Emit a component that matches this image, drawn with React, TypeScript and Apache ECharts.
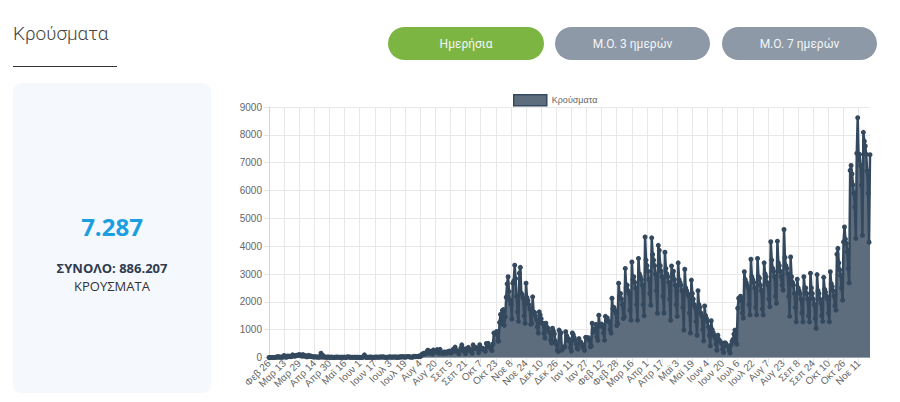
import React, { useEffect, useRef } from "react";
import * as echarts from "echarts";

// Daily cases, one row per week (Wed .. Tue), starting Wed 26 Feb 2020
const START_UTC = Date.UTC(2020, 1, 26);
const MONTHS = ["Ιαν", "Φεβ", "Μαρ", "Απρ", "Μαϊ", "Ιουν", "Ιουλ", "Αυγ", "Σεπ", "Οκτ", "Νοε", "Δεκ"];

const casesSpring2020 = [
  1, 2, 0, 0, 0, 1, 3,
  2, 22, 14, 32, 7, 11, 20,
  10, 18, 73, 38, 10, 21, 56,
  31, 46, 31, 35, 94, 71, 48,
  52, 78, 71, 95, 95, 102, 56,
  48, 103, 54, 60, 62, 20, 35,
  77, 38, 56, 40, 24, 28, 18,
  25, 21, 15, 13, 12, 19, 156,
  11, 77, 11, 16, 15, 7, 14,
  17, 3, 10, 16, 8, 1, 5,
  11, 9, 13, 12, 11, 0, 9,
  10, 7, 6, 15, 3, 4, 25,
  15, 21, 6, 2, 11, 3, 11,
  12, 2, 8, 9, 2, 5, 1,
  4, 5, 20, 97, 13, 4, 9,
  11, 7, 17, 8, 11, 3, 10,
  8, 16, 16, 11, 7, 15, 21,
  15, 17, 23, 12, 6, 5, 6,
  12, 14, 25, 15, 9, 16, 20,
  11, 22, 5, 8, 19, 7, 28,
  22, 25, 26, 18, 19, 19, 29,
  34, 27, 25, 12, 15, 13, 28,
];

const casesAutumn2020 = [
  44, 30, 33, 32, 31, 58, 37,
  58, 124, 121, 153, 126, 151, 203,
  262, 156, 230, 217, 202, 126, 269,
  235, 195, 227, 284, 176, 155, 293,
  168, 168, 142, 190, 198, 156, 161,
  214, 187, 236, 166, 160, 206, 295,
  210, 372, 262, 232, 208, 129, 237,
  338, 453, 339, 241, 219, 138, 318,
  290, 365, 245, 289, 225, 149, 456,
  347, 323, 359, 311, 291, 171, 460,
  340, 320, 332, 271, 262, 223, 504,
  374, 507, 385, 380, 303, 250, 486,
  882, 865, 841, 935, 590, 586, 1259,
  1547, 1211, 1690, 1720, 1155, 1460, 2166,
  2646, 2900, 2369, 2056, 1914, 1384, 2670,
  2752, 3316, 2835, 2198, 1640, 1300, 3030,
  3240, 2311, 2248, 2131, 1498, 1230, 2670,
  2150, 2050, 1900, 1747, 1193, 1230, 2180,
  1640, 1617, 1500, 1358, 1100, 880, 1639,
  1529, 1395, 1229, 1226, 860, 700, 1230,
  1100, 1050, 940, 900, 622, 520, 1050,
  947, 850, 599, 480, 262, 210, 985,
  905, 882, 262, 330, 376, 380, 925,
];

const casesSpring2021 = [
  781, 621, 673, 591, 347, 232, 880,
  818, 711, 604, 495, 331, 300, 680,
  543, 555, 482, 406, 337, 258, 725,
  710, 698, 712, 619, 383, 413, 1230,
  906, 1010, 1000, 1193, 748, 616, 1520,
  1152, 1130, 1200, 1120, 880, 624, 1480,
  1390, 1420, 1300, 1290, 1000, 880, 2130,
  1750, 1800, 1700, 1600, 1150, 1220, 2670,
  2200, 2300, 2100, 1900, 1400, 1460, 3200,
  2500, 2600, 2400, 2300, 1700, 1340, 3430,
  2800, 2900, 2700, 2500, 1900, 1340, 3560,
  3000, 2900, 2800, 2600, 1900, 1500, 4330,
  3500, 3300, 3100, 2800, 2300, 1880, 4300,
  3700, 3500, 3300, 3000, 2400, 1590, 4030,
  3850, 3300, 3100, 2900, 2200, 1600, 3780,
  3200, 3000, 2900, 2700, 2100, 1340, 3290,
  3000, 3100, 2800, 2600, 1900, 1480, 3400,
  2800, 2700, 2600, 2400, 1800, 985, 3170,
  2500, 2400, 2300, 2200, 1600, 880, 2780,
  2300, 2100, 1900, 1800, 1300, 800, 2400,
  1900, 1800, 1600, 1500, 1000, 600, 1850,
  1500, 1400, 1300, 1100, 800, 420, 1320,
  1000, 900, 800, 700, 500, 260, 800,
  650, 600, 550, 500, 300, 180, 520,
  520, 480, 400, 380, 250, 160, 450,
];

const casesAutumn2021 = [
  580, 650, 840, 985, 560, 480, 1770,
  2130, 2050, 2200, 2130, 1600, 1420, 3080,
  2800, 2700, 2600, 2500, 1900, 1530, 3530,
  2900, 2800, 2700, 2500, 1800, 1530, 3560,
  2900, 2850, 2600, 2400, 1750, 1530, 3400,
  3000, 2900, 2700, 2600, 2100, 1820, 4160,
  3500, 3200, 3100, 2900, 2200, 1950, 4180,
  3400, 3300, 3100, 2900, 2600, 2420, 4600,
  3600, 3300, 3200, 3000, 2200, 1480, 3610,
  2900, 2700, 2600, 2300, 1800, 1280, 2810,
  2500, 2400, 2300, 2100, 1600, 1280, 2900,
  2500, 2500, 2300, 2100, 1500, 1280, 3030,
  2500, 2300, 2100, 1900, 1400, 1045, 2980,
  2400, 2300, 2100, 1950, 1500, 1300, 2880,
  2450, 2350, 2200, 2100, 1600, 1280, 3080,
  2650, 2550, 2400, 2200, 1850, 1700, 3710,
  3920, 3400, 3150, 2950, 2500, 2060, 4150,
  4690, 4250, 4100, 3800, 3200, 2680, 6720,
  6900, 6600, 6200, 5900, 5400, 4280, 7335,
  8613, 7080, 7300, 6900, 6200, 4390, 8090,
  7770, 7600, 7300, 6700, 5900, 4140, 7287,
];

const dailyCases = [...casesSpring2020, ...casesAutumn2020, ...casesSpring2021, ...casesAutumn2021];
const dateLabels = dailyCases.map((_, i) => {
  const d = new Date(START_UTC + i * 86400000);
  return `${MONTHS[d.getUTCMonth()]} ${d.getUTCDate()}`;
});

const SERIES_NAME = "Κρούσματα";
const TITLE = "Κρούσματα";
const BUTTONS = ["Ημερήσια", "Μ.Ο. 3 ημερών", "Μ.Ο. 7 ημερών"];
const LAST_VALUE = "7.287";
const TOTAL_TEXT = "ΣΥΝΟΛΟ: 886.207";
const UNIT_TEXT = "ΚΡΟΥΣΜΑΤΑ";
const Y_MAX = 9000;
const Y_STEP = 1000;
const LABEL_EVERY = 16;

const CHART_FONT = "'Liberation Sans', Arial, sans-serif";
const UI_FONT = "Roboto, 'Open Sans', sans-serif";
const PANEL_FONT = "'Open Sans', 'Noto Sans', sans-serif";

function txt(x: number, y: number, text: string, size: number, fill: string, weight: string | number, family: string) {
  return {
    type: "text",
    x,
    y,
    silent: true,
    style: {
      text,
      fontSize: size,
      fontWeight: weight,
      fontFamily: family,
      fill,
      align: "center",
      verticalAlign: "middle",
      textAlign: "center",
      textVerticalAlign: "middle",
    },
  };
}

const buttonBoxes = [
  { x: 388, w: 156, color: "#7db543" },
  { x: 555, w: 155, color: "#8d99a6" },
  { x: 722, w: 155, color: "#8d99a6" },
];

export default function App() {
  const ref = useRef<HTMLDivElement>(null);
  useEffect(() => {
    if (!ref.current) return;
    const chart = echarts.init(ref.current, undefined, { renderer: "svg" });
    const graphics: any[] = [
      {
        type: "text",
        x: 13,
        y: 33,
        silent: true,
        style: {
          text: TITLE,
          fontSize: 19,
          fontWeight: 300,
          fontFamily: UI_FONT,
          fill: "#444",
          align: "left",
          verticalAlign: "middle",
          textAlign: "left",
          textVerticalAlign: "middle",
        },
      },
      { type: "line", shape: { x1: 13, y1: 66.5, x2: 117, y2: 66.5 }, style: { stroke: "#333", lineWidth: 1 }, silent: true },
      { type: "rect", shape: { x: 13, y: 83, width: 198, height: 310, r: 8 }, style: { fill: "#f5f8fc" }, silent: true },
      txt(112, 226.5, LAST_VALUE, 24, "#1a9fe0", "bold", PANEL_FONT),
      txt(112, 267.5, TOTAL_TEXT, 13, "#2f3b4f", "bold", PANEL_FONT),
      txt(112, 286, UNIT_TEXT, 13, "#333", "normal", PANEL_FONT),
    ];
    buttonBoxes.forEach((b, i) => {
      graphics.push({
        type: "rect",
        shape: { x: b.x, y: 27, width: b.w, height: 33, r: 16.5 },
        style: { fill: b.color },
        silent: true,
      });
      graphics.push(txt(b.x + b.w / 2, 43.5, BUTTONS[i], 12, "#f3f6f9", "normal", UI_FONT));
    });

    chart.setOption({
      animation: false,
      grid: { left: 269, right: 30, top: 107, bottom: 44.5, containLabel: false },
      legend: {
        left: 508,
        top: 89,
        itemWidth: 33,
        itemHeight: 11,
        itemGap: 5,
        textStyle: { fontSize: 9, color: "#666", fontFamily: CHART_FONT },
        data: [
          {
            name: SERIES_NAME,
            icon: "rect",
            itemStyle: { color: "#5d6d7e", borderColor: "#34495e", borderWidth: 1.5 },
          },
        ],
      },
      xAxis: {
        type: "category",
        data: dateLabels,
        boundaryGap: false,
        axisLine: { lineStyle: { color: "#d9d9d9" } },
        axisTick: { show: true, interval: LABEL_EVERY - 1, length: 5, lineStyle: { color: "#e6e6e6" } },
        axisLabel: {
          interval: LABEL_EVERY - 1,
          rotate: 45,
          fontSize: 10,
          color: "#666",
          margin: 4,
          fontFamily: CHART_FONT,
        },
        splitLine: { show: true, interval: LABEL_EVERY - 1, lineStyle: { color: "#e8e8e8" } },
      },
      yAxis: {
        type: "value",
        min: 0,
        max: Y_MAX,
        interval: Y_STEP,
        axisLine: { show: true, lineStyle: { color: "#d5d5d5" } },
        axisTick: { show: true, length: 5, lineStyle: { color: "#e6e6e6" } },
        axisLabel: {
          fontSize: 10,
          color: "#666",
          margin: 7,
          fontFamily: CHART_FONT,
          formatter: (v: number) => String(v),
        },
        splitLine: { show: true, lineStyle: { color: "#e8e8e8" } },
      },
      series: [
        {
          type: "line",
          name: SERIES_NAME,
          data: dailyCases,
          showAllSymbol: true,
          symbol: "circle",
          symbolSize: 5,
          itemStyle: { color: "#34495e" },
          lineStyle: { color: "#34495e", width: 2.5 },
          areaStyle: { color: "#5d6d7e", opacity: 1 },
        },
      ],
      graphic: graphics,
    });
    return () => chart.dispose();
  }, []);
  return (
    <div
      ref={ref}
      style={{ position: "fixed", left: 0, top: 0, width: 900, height: 402, background: "#fff" }}
    />
  );
}
